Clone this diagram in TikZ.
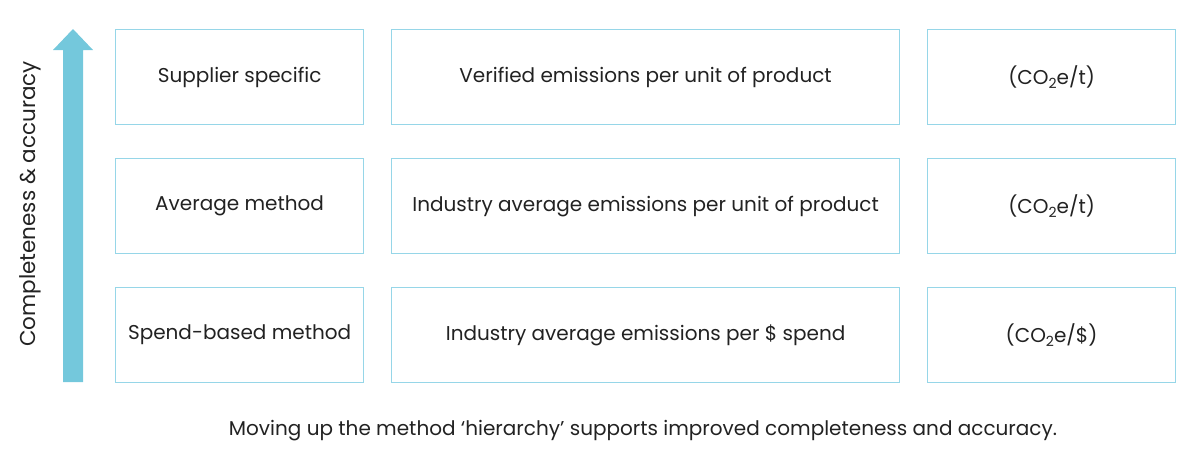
\documentclass[tikz,border=0pt]{standalone}
\usepackage{fontspec}
\setmainfont{Poppins}
\usetikzlibrary{positioning}
\definecolor{boxline}{HTML}{96D6E8}
\definecolor{arrowfill}{HTML}{74C8DC}
\definecolor{txt}{HTML}{222222}
\newcommand{\subtwo}{\raisebox{-0.45ex}{\fontsize{14}{14}\selectfont 2}}
\tikzset{
  cell/.style={draw=boxline, line width=1.2pt, minimum height=95pt, inner sep=0pt, text=txt, font=\fontsize{20}{24}\selectfont, anchor=north west},
  c1/.style={cell, minimum width=248pt},
  c2/.style={cell, minimum width=508pt},
  c3/.style={cell, minimum width=248pt},
}
\begin{document}
\begin{tikzpicture}[x=1pt,y=-1pt]
\useasboundingbox (0,0) rectangle (1200,458);
% arrow
\fill[arrowfill] (63,382) -- (63,50) -- (53,50) -- (73,29) -- (93,50) -- (83,50) -- (83,382) -- cycle;
\node[rotate=90, text=txt, font=\fontsize{21.5}{24}\selectfont] (lbl) at (30,204) {Completeness \& accuracy};
% rows
\node[c1] (a1) at (115,29) {Supplier specific};
\node[c2] (b1) at (391,29) {Verified emissions per unit of product};
\node[c3] (c1) at (927,29) {(CO\subtwo e/t)};
\node[c1] (a2) at (115,158) {Average method};
\node[c2] (b2) at (391,158) {Industry average emissions per unit of product};
\node[c3] (c2) at (927,158) {(CO\subtwo e/t)};
\node[c1] (a3) at (115,287) {Spend-based method};
\node[c2] (b3) at (391,287) {Industry average emissions per \$ spend};
\node[c3] (c3) at (927,287) {(CO\subtwo e/\$)};
\node[text=txt, font=\fontsize{20}{24}\selectfont] (note) at (643,431) {Moving up the method `hierarchy’ supports improved completeness and accuracy.};
\end{tikzpicture}
\end{document}
